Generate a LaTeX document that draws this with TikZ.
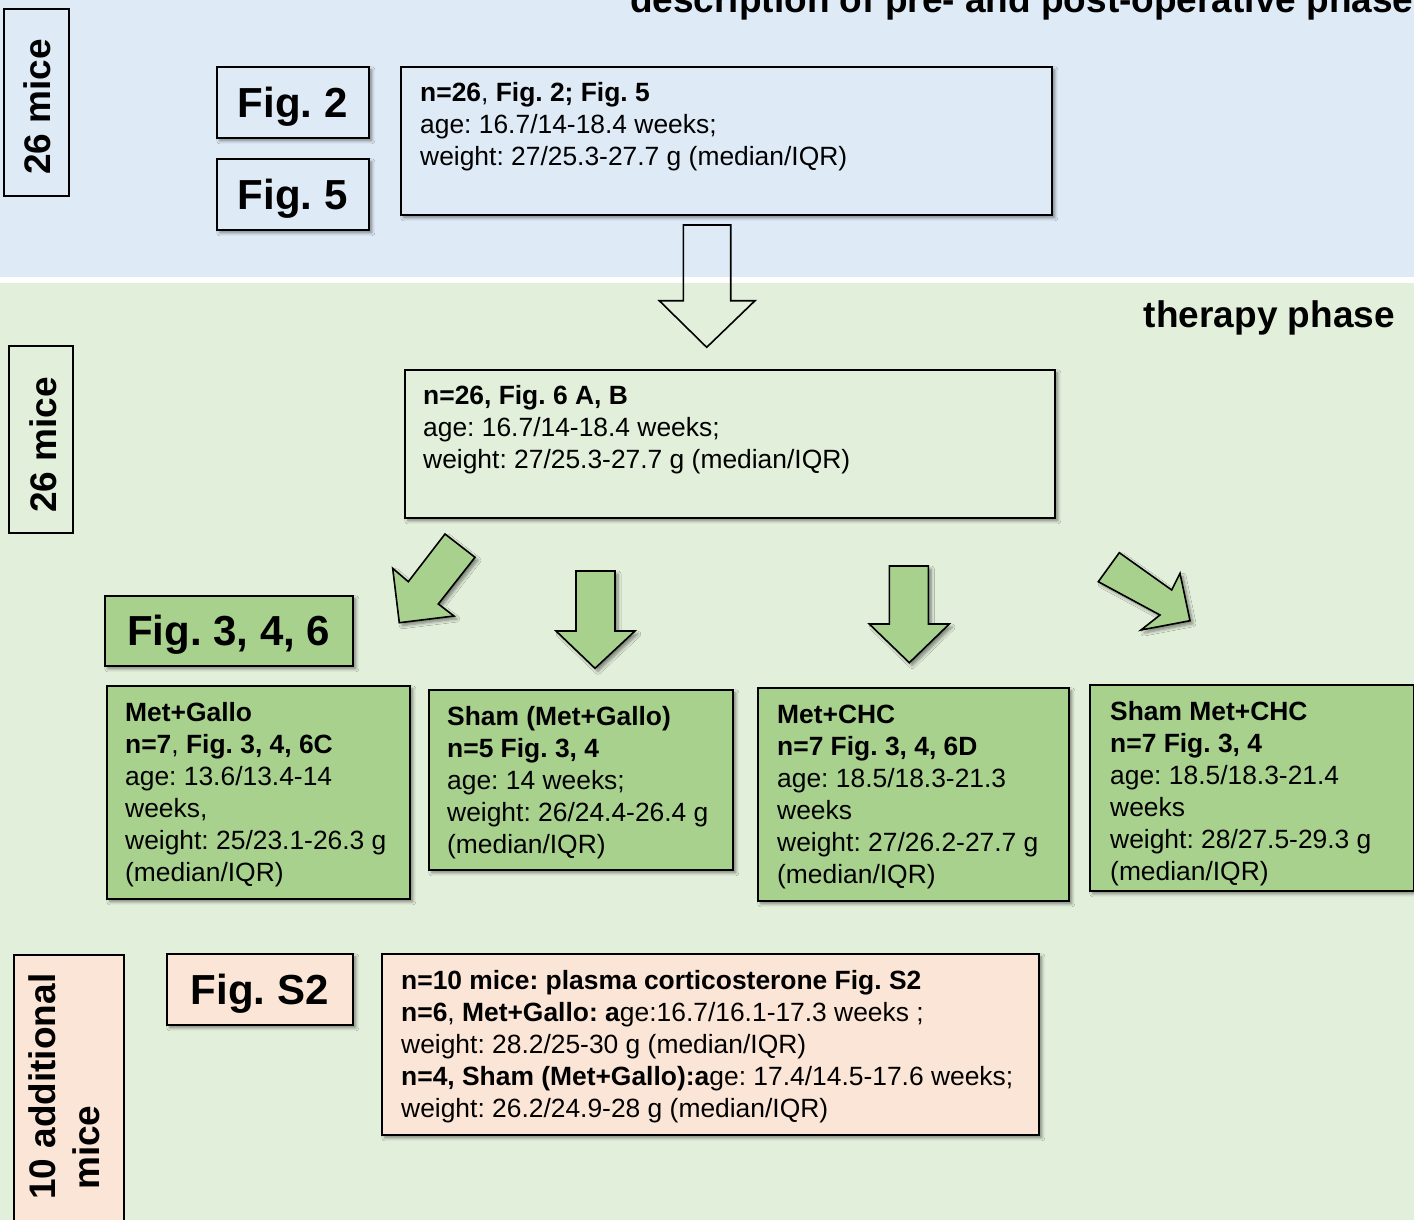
\documentclass[tikz,border=0pt]{standalone}
\usepackage{fontspec}
\setmainfont{Liberation Sans}
\usetikzlibrary{shadows.blur}
\definecolor{bgblue}{HTML}{DEEAF6}
\definecolor{bggreen}{HTML}{E2EFDA}
\definecolor{boxgreen}{HTML}{A9D18E}
\definecolor{peach}{HTML}{FBE5D6}
\newcommand{\mlines}[1]{\begin{tabular}[t]{@{}l@{}}#1\end{tabular}}
\tikzset{
 sh/.style={blur shadow={shadow xshift=3pt, shadow yshift=-3pt, shadow blur steps=6, shadow blur radius=3pt, shadow opacity=45}},
 box/.style={draw=black, line width=1.6pt, inner sep=0pt, anchor=north west},
 shbox/.style={box, sh},
 body/.style={font=\fontsize{26.4}{32}\selectfont, inner sep=0pt, anchor=base west},
 big/.style={font=\fontsize{42}{50}\selectfont\bfseries, text height=30pt, text depth=0pt},
 sidetxt/.style={font=\fontsize{37}{44}\selectfont\bfseries, inner sep=0pt, rotate=90},
 garrow/.style={draw=black, line width=1.6pt, fill=boxgreen, line join=miter, sh},
 harrow/.style={draw=black, line width=1.6pt, line join=miter},
}
\begin{document}
\frenchspacing
\begin{tikzpicture}[x=1pt,y=-1pt]
\useasboundingbox (0,0) rectangle (1414,1220);
\clip (0,0) rectangle (1414,1220);
% backgrounds
\fill[white] (0,0) rectangle (1414,1220);
\fill[bgblue] (0,0) rectangle (1414,277);
\fill[bggreen] (0,283) rectangle (1414,1220);

% titles
\node[font=\fontsize{37}{44}\selectfont\bfseries, anchor=base west, inner sep=0pt] (title) at (630,13) {description of pre- and post-operative phase};
\node[font=\fontsize{37}{44}\selectfont\bfseries, anchor=base east, inner sep=0pt] (therapy) at (1395,327) {therapy phase};

% side labels
\node[box, fill=bgblue, minimum width=65pt, minimum height=187pt] (side1) at (3,8) {};
\node[sidetxt, anchor=base] (side1t) at (50,107) {26 mice};
\node[box, fill=bggreen, minimum width=64pt, minimum height=187pt] (side2) at (8,345) {};
\node[sidetxt, anchor=base] (side2t) at (56,445) {26 mice};
\node[box, fill=peach, minimum width=110pt, minimum height=290pt] (side3) at (13,954) {};
\node[sidetxt, anchor=base west] (side3t) at (55,1200) {\mlines{10 additional\\\hspace{10pt}mice}};

% figure labels
\node[shbox, big, fill=bgblue, minimum width=152pt, minimum height=71pt] (fig2) at (216,66) {Fig. 2};
\node[shbox, big, fill=bgblue, minimum width=152pt, minimum height=71pt] (fig5) at (216,158) {Fig. 5};
\node[shbox, big, fill=boxgreen, minimum width=248pt, minimum height=70pt] (fig346) at (104,595) {Fig. 3, 4, 6};
\node[shbox, big, fill=peach, minimum width=186pt, minimum height=71pt] (figS2) at (166,953) {Fig. S2};

% main boxes
\node[shbox, fill=bgblue, minimum width=651pt, minimum height=148pt] (b1) at (400,66) {};
\node[body] (b1t) at (420,102) {\mlines{\textbf{n=26}, \textbf{Fig. 2; Fig. 5}\\age: 16.7/14-18.4 weeks;\\weight: 27/25.3-27.7 g (median/IQR)}};

\node[shbox, fill=bggreen, minimum width=650pt, minimum height=148pt] (b2) at (404,369) {};
\node[body] (b2t) at (423,404) {\mlines{\textbf{n=26, Fig. 6 A, B}\\age: 16.7/14-18.4 weeks;\\weight: 27/25.3-27.7 g (median/IQR)}};

\node[shbox, fill=boxgreen, minimum width=303pt, minimum height=213pt] (g1) at (106,685) {};
\node[body] (g1t) at (125,721) {\mlines{\textbf{Met+Gallo}\\\textbf{n=7}, \textbf{Fig. 3, 4, 6C}\\age: 13.6/13.4-14\\weeks,\\weight: 25/23.1-26.3 g\\(median/IQR)}};

\node[shbox, fill=boxgreen, minimum width=304pt, minimum height=180pt] (g2) at (428,689) {};
\node[body] (g2t) at (447,725) {\mlines{\textbf{Sham (Met+Gallo)}\\\textbf{n=5 Fig. 3, 4}\\age: 14 weeks;\\weight: 26/24.4-26.4 g\\(median/IQR)}};

\node[shbox, fill=boxgreen, minimum width=311pt, minimum height=213pt] (g3) at (757,687) {};
\node[body] (g3t) at (777,723) {\mlines{\textbf{Met+CHC}\\\textbf{n=7 Fig. 3, 4, 6D}\\age: 18.5/18.3-21.3\\weeks\\weight: 27/26.2-27.7 g\\(median/IQR)}};

\node[shbox, fill=boxgreen, minimum width=324pt, minimum height=206pt] (g4) at (1089,684) {};
\node[body] (g4t) at (1110,720) {\mlines{\textbf{Sham Met+CHC}\\\textbf{n=7 Fig. 3, 4}\\age: 18.5/18.3-21.4\\weeks\\weight: 28/27.5-29.3 g\\(median/IQR)}};

\node[shbox, fill=peach, minimum width=657pt, minimum height=181pt] (pb) at (381,953) {};
\node[body] (pbt) at (401,989) {\mlines{\textbf{n=10 mice: plasma corticosterone Fig. S2}\\\textbf{n=6}, \textbf{Met+Gallo: a}ge:16.7/16.1-17.3 weeks ;\\weight: 28.2/25-30 g (median/IQR)\\\textbf{n=4, Sham (Met+Gallo):a}ge: 17.4/14.5-17.6 weeks;\\weight: 26.2/24.9-28 g (median/IQR)}};

% hollow arrow
\draw[harrow] (683.3,225) -- (730.7,225) -- (730.7,300.7) -- (755,300.7) -- (706.7,347.3) -- (659.3,300.7) -- (683.3,300.7) -- cycle;

% green arrows
\draw[garrow] (445,534) -- (475,557.3) -- (438.3,604) -- (454,616) -- (399.3,622.7) -- (392.7,568.3) -- (408.3,581.7) -- cycle;
\draw[garrow] (576,571) -- (615,571) -- (615,631) -- (635,631) -- (595,668.3) -- (556,631) -- (576,631) -- cycle;
\draw[garrow] (889.3,566) -- (928.3,566) -- (928.3,624) -- (949.3,624) -- (909.3,662.7) -- (869.3,624) -- (889.3,624) -- cycle;
\draw[garrow] (1119.3,552.7) -- (1098.3,581.7) -- (1160,615) -- (1141,630) -- (1190,620.7) -- (1180,573.3) -- (1171.7,590) -- cycle;
\end{tikzpicture}
\end{document}
